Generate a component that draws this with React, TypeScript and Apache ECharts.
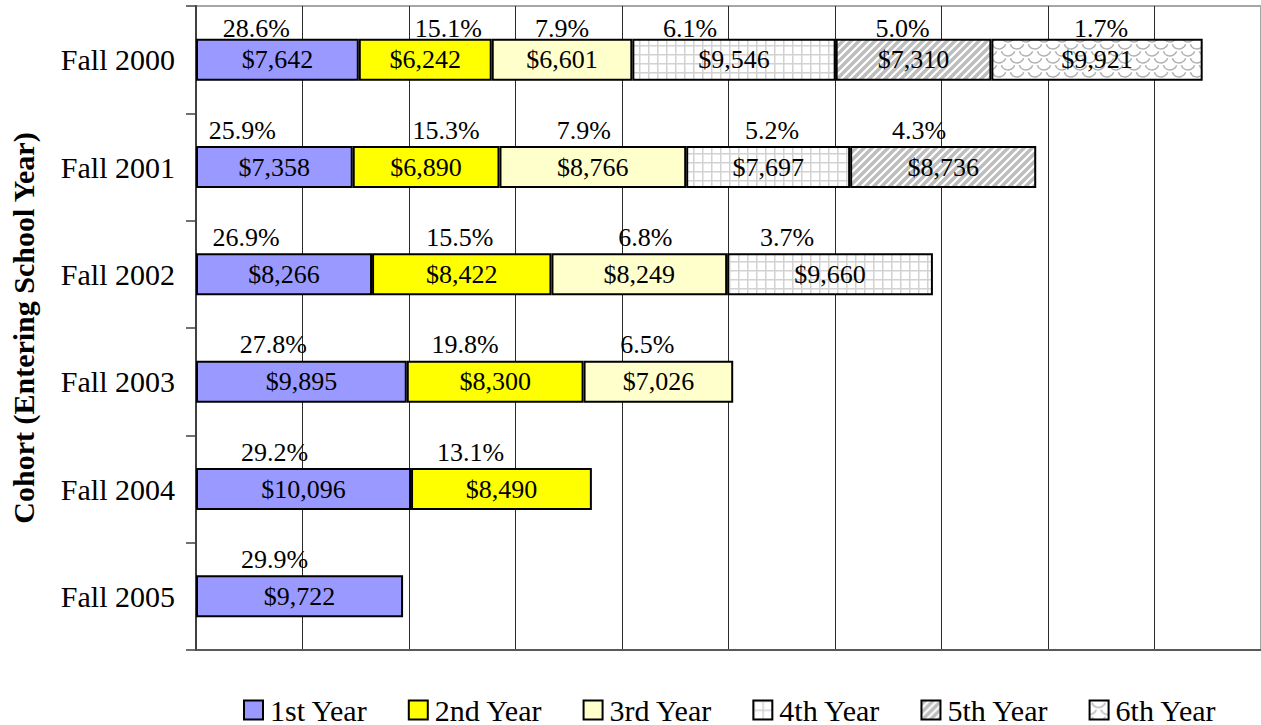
import React, { useEffect, useRef } from "react";
import * as echarts from "echarts";

// ---------- data ----------
const cohorts = ["Fall 2000", "Fall 2001", "Fall 2002", "Fall 2003", "Fall 2004", "Fall 2005"];
const yearNames = ["1st Year", "2nd Year", "3rd Year", "4th Year", "5th Year", "6th Year"];

const cost1st = [7642, 7358, 8266, 9895, 10096, 9722];
const cost2nd = [6242, 6890, 8422, 8300, 8490, null];
const cost3rd = [6601, 8766, 8249, 7026, null, null];
const cost4th = [9546, 7697, 9660, null, null, null];
const cost5th = [7310, 8736, null, null, null, null];
const cost6th = [9921, null, null, null, null, null];

const pct1st = [28.6, 25.9, 26.9, 27.8, 29.2, 29.9];
const pct2nd = [15.1, 15.3, 15.5, 19.8, 13.1, null];
const pct3rd = [7.9, 7.9, 6.8, 6.5, null, null];
const pct4th = [6.1, 5.2, 3.7, null, null, null];
const pct5th = [5.0, 4.3, null, null, null, null];
const pct6th = [1.7, null, null, null, null, null];

const xMin = 0;
const xMax = 50000;
const xStep = 5000;

// ---------- layout (label nudges, px) ----------
const pctShift1st = [-21, -32, -38, -28, -29, -25];
const pctShift2nd = [23, 20, -2, -30, -31, 0];
const pctShift3rd = [0, -9, 6, -11, 0, 0];
const pctShift4th = [-44, 4, -43, 0, 0, 0];
const pctShift5th = [-11, -24, 0, 0, 0, 0];
const pctShift6th = [4, 0, 0, 0, 0, 0];

const FONT = "'Liberation Serif', 'Times New Roman', serif";

function makeCanvas(w: number, h: number, draw: (ctx: CanvasRenderingContext2D) => void) {
  const c = document.createElement("canvas");
  c.width = w;
  c.height = h;
  const ctx = c.getContext("2d") as CanvasRenderingContext2D;
  draw(ctx);
  return c;
}

function pattern(w: number, h: number, draw: (ctx: CanvasRenderingContext2D) => void) {
  return {
    image: makeCanvas(w, h, draw),
    repeat: "repeat",
    imageWidth: w,
    imageHeight: h,
  } as any;
}

export default function App() {
  const ref = useRef<HTMLDivElement>(null);

  useEffect(() => {
    if (!ref.current) return;
    const chart = echarts.init(ref.current, undefined, { renderer: "svg" });

    const gridPat = pattern(9, 9, (ctx) => {
      ctx.fillStyle = "#ffffff";
      ctx.fillRect(0, 0, 9, 9);
      ctx.fillStyle = "#d2d2d2";
      ctx.fillRect(0, 0, 9, 1.5);
      ctx.fillRect(0, 0, 1.5, 9);
    });
    const stripePat = pattern(8, 8, (ctx) => {
      ctx.fillStyle = "#bdbdbd";
      ctx.fillRect(0, 0, 8, 8);
      ctx.strokeStyle = "#ffffff";
      ctx.lineWidth = 2.2;
      ctx.beginPath();
      ctx.moveTo(-1, 9);
      ctx.lineTo(9, -1);
      ctx.moveTo(-1, 1);
      ctx.lineTo(1, -1);
      ctx.moveTo(7, 9);
      ctx.lineTo(9, 7);
      ctx.stroke();
    });
    const scalePat = pattern(18, 14, (ctx) => {
      ctx.fillStyle = "#ffffff";
      ctx.fillRect(0, 0, 18, 14);
      ctx.strokeStyle = "#b0b0b0";
      ctx.lineWidth = 1.4;
      const arcs = [
        [9, 0],
        [0, 7],
        [18, 7],
        [9, 14],
        [0, -7],
        [18, -7],
      ];
      arcs.forEach(([cx, cy]) => {
        ctx.beginPath();
        ctx.arc(cx, cy, 7, 0.1 * Math.PI, 0.9 * Math.PI);
        ctx.stroke();
      });
    });

    const fills: any[] = ["#9999ff", "#ffff00", "#ffffcc", gridPat, stripePat, scalePat];
    const costs = [cost1st, cost2nd, cost3rd, cost4th, cost5th, cost6th];
    const pcts = [pct1st, pct2nd, pct3rd, pct4th, pct5th, pct6th];
    const shifts = [pctShift1st, pctShift2nd, pctShift3rd, pctShift4th, pctShift5th, pctShift6th];

    const costSeries = costs.map((arr, k) => ({
      name: yearNames[k],
      type: "bar",
      stack: "cost",
      barWidth: 42,
      barGap: "-100%",
      data: arr,
      itemStyle: { color: fills[k], borderColor: "#000000", borderWidth: 2 },
      label: {
        show: true,
        position: "inside",
        formatter: (p: any) => "$" + Number(p.value).toLocaleString("en-US"),
        fontSize: 26,
        fontFamily: FONT,
        color: "#000000",
      },
    }));

    const pctSeries = costs.map((arr, k) => ({
      name: "pct" + k,
      type: "bar",
      stack: "pct",
      barWidth: 42,
      barGap: "-100%",
      silent: true,
      z: 1,
      itemStyle: { color: "rgba(0,0,0,0)" },
      data: arr.map((v, i) =>
        v == null ? null : { value: v, label: { offset: [shifts[k][i], i === 0 ? 6 : 0] } }
      ),
      label: {
        show: true,
        position: "top",
        distance: 3,
        formatter: (p: any) => {
          const v = pcts[k][p.dataIndex];
          return v == null ? "" : v.toFixed(1) + "%";
        },
        fontSize: 26,
        fontFamily: FONT,
        color: "#000000",
      },
    }));

    chart.setOption({
      animation: false,
      backgroundColor: "#ffffff",
      textStyle: { fontFamily: FONT },
      grid: {
        left: 196,
        top: 6,
        right: -1.4,
        bottom: 75,
        show: true,
        borderColor: "#a6a6a6",
        borderWidth: 2,
        containLabel: false,
      },
      legend: {
        data: yearNames,
        left: 243,
        top: 695,
        padding: 0,
        icon: "rect",
        itemWidth: 19,
        itemHeight: 19,
        itemGap: 40,
        textStyle: {
          fontSize: 30,
          lineHeight: 28,
          fontFamily: FONT,
          color: "#000000",
          padding: [0, 0, 0, 2],
        },
      },
      xAxis: {
        type: "value",
        min: xMin,
        max: xMax,
        interval: xStep,
        axisLabel: { show: false },
        axisTick: { show: false },
        axisLine: { show: true, lineStyle: { color: "#595959", width: 2 } },
        splitLine: { show: true, lineStyle: { color: "#2a2a2a", width: 1 } },
      },
      yAxis: {
        type: "category",
        data: cohorts,
        inverse: true,
        name: "Cohort (Entering School Year)",
        nameLocation: "middle",
        nameRotate: 90,
        nameGap: 158,
        nameTextStyle: { fontSize: 30, fontWeight: "bold", fontFamily: FONT, color: "#000000" },
        axisLine: { show: true, lineStyle: { color: "#404040", width: 2 } },
        axisTick: { show: true, inside: false, length: 10, lineStyle: { color: "#404040", width: 1.5 } },
        axisLabel: { fontSize: 30, fontFamily: FONT, color: "#000000", margin: 21 },
        splitLine: { show: false },
      },
      series: [...costSeries, ...pctSeries],
    } as any);

    return () => chart.dispose();
  }, []);

  return (
    <div
      ref={ref}
      style={{ position: "fixed", left: 0, top: 0, width: 1261, height: 725 }}
    />
  );
}
